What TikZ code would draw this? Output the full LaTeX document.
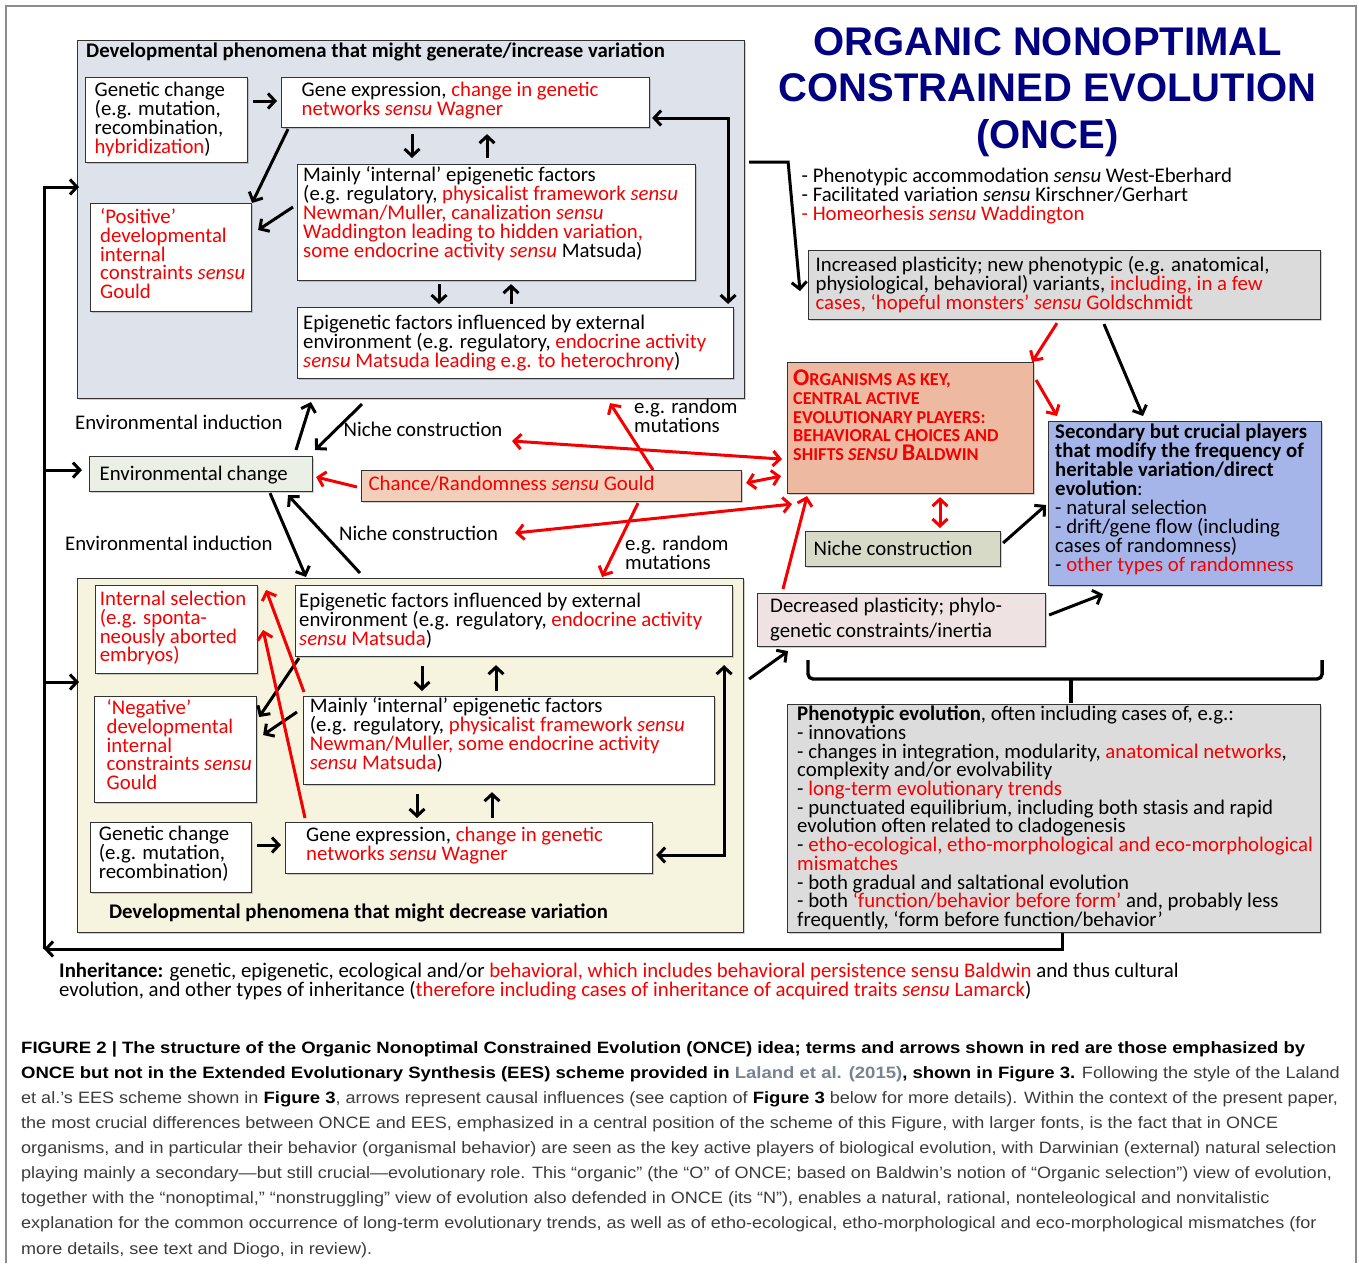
\documentclass[tikz,border=0pt]{standalone}
\usepackage{fontspec}
\setmainfont{Carlito}
\newfontfamily\arialf{Liberation Sans}
\newfontfamily\capf[FakeStretch=1.1,BoldFeatures={FakeStretch=1.13}]{Liberation Sans}
\usetikzlibrary{arrows.meta,calc,shadows}
\definecolor{rd}{RGB}{245,0,0}
\definecolor{navyt}{RGB}{0,0,128}
\definecolor{topfill}{RGB}{221,226,235}
\definecolor{botfill}{RGB}{246,243,222}
\definecolor{envfill}{RGB}{234,240,229}
\definecolor{chfill}{RGB}{242,207,186}
\definecolor{orgfill}{RGB}{237,185,160}
\definecolor{incfill}{RGB}{219,219,219}
\definecolor{secfill}{RGB}{165,181,233}
\definecolor{nicfill}{RGB}{216,218,200}
\definecolor{decfill}{RGB}{238,226,226}
\definecolor{phfill}{RGB}{220,220,220}
\definecolor{captxt}{RGB}{60,60,60}
\definecolor{capref}{RGB}{120,130,145}
\newcommand\R[1]{\textcolor{rd}{#1}}
\newcommand\st{\rule{0pt}{16pt}}
\newcommand\sn{\textit{sensu}}
\newcommand\BG[1]{{\fontsize{24}{18.9}\selectfont #1}}
\begin{document}
\begin{tikzpicture}[x=1pt,y=-1pt,
 >={Straight Barb[length=7pt,width=15pt]},
 bx/.style={draw=black!80, line width=1.1pt, anchor=north west, inner sep=0pt,
   drop shadow={shadow xshift=1.5pt,shadow yshift=-1.5pt,opacity=0.3,fill=black!60}},
 tx/.style={anchor=north west, inner sep=0pt, align=left, font=\fontsize{20.8}{18.9}\selectfont},
 ar/.style={line width=3pt, ->},
 ard/.style={line width=3pt, <->},
 rar/.style={line width=3pt, ->, draw=rd},
 rard/.style={line width=3pt, <->, draw=rd}]
\useasboundingbox (0,0) rectangle (1359,1263);
\fill[white] (0,0) rectangle (1359,1263);
\draw[black!45, line width=1.2pt] (6,1263) -- (6,6) -- (1356,6) -- (1356,1263);

% ---------- outer group boxes
\node[bx, fill=topfill, minimum width=667, minimum height=358] (top) at (77,40) {};
\node[bx, fill=botfill, minimum width=666, minimum height=354] (bot) at (77,578) {};

% ---------- top group
\node[tx, font=\fontsize{20.8}{18.9}\selectfont\bfseries] (toptitle) at (86,41) {\st Developmental phenomena that might generate/increase variation};
\node[bx, fill=white, minimum width=162, minimum height=85] (gc1) at (85,77) {};
\node[tx] (gc1t) at (94.5,80.7) {\st Genetic change\\(e.g. mutation,\\recombination,\\\R{hybridization})};
\node[bx, fill=white, minimum width=368, minimum height=50] (ge1) at (281,77) {};
\node[tx] (ge1t) at (301.5,80.7) {\st Gene expression, \R{change in genetic}\\\R{networks \sn{} Wagner}};
\node[bx, fill=white, minimum width=161, minimum height=108] (pos1) at (90,203) {};
\node[tx, text=rd] (pos1t) at (100,207) {\st ‘Positive’\\developmental\\internal\\constraints \sn\\Gould};
\node[bx, fill=white, minimum width=398, minimum height=116] (mi1) at (297,164) {};
\node[tx] (mi1t) at (303,165.7) {\st Mainly ‘internal’ epigenetic factors\\(e.g. regulatory, \R{physicalist framework \sn}\\\R{Newman/Muller, canalization \sn}\\\R{Waddington leading to hidden variation,}\\\R{some endocrine activity \sn} Matsuda)};
\node[bx, fill=white, minimum width=436, minimum height=71] (ee1) at (297,307) {};
\node[tx] (ee1t) at (303,313.3) {\st Epigenetic factors influenced by external\\environment (e.g. regulatory, \R{endocrine activity}\\\R{\sn{} Matsuda leading e.g. to heterochrony})};

\draw[ar] ($(gc1.north east)+(5,24)$) -- ($(ge1.north west)+(-4,24)$);
\draw[ar] ($(ge1.south west)+(7,1)$) -- (pos1.north east);
\draw[ar] ($(mi1.north west)+(-4,43)$) -- ($(pos1.north east)+(6,27)$);
\draw[ar] ($(ge1.south west)+(131,6)$) -- ($(mi1.north west)+(115,-6)$);
\draw[ar] ($(mi1.north west)+(190,-6)$) -- ($(ge1.south west)+(206,6)$);
\draw[ar] ($(mi1.south west)+(142,3)$) -- ($(ee1.north west)+(142,-3)$);
\draw[ar] ($(ee1.north west)+(214,-3)$) -- ($(mi1.south west)+(214,3)$);
\draw[ard] ($(ge1.north east)+(2,41)$) -| ($(ee1.north east)+(-6,-3)$);

% ---------- bottom group
\node[bx, fill=white, minimum width=162, minimum height=88] (is2) at (95,585) {};
\node[tx, text=rd] (is2t) at (99.6,589) {\st Internal selection\\(e.g. sponta-\\neously aborted\\embryos)};
\node[bx, fill=white, minimum width=437, minimum height=71] (ee2) at (295,585) {};
\node[tx] (ee2t) at (299,591.3) {\st Epigenetic factors influenced by external\\environment (e.g. regulatory, \R{endocrine activity}\\\R{\sn{} Matsuda})};
\node[bx, fill=white, minimum width=162, minimum height=106] (neg) at (94,696) {};
\node[tx, text=rd] (negt) at (106.5,698) {\st ‘Negative’\\developmental\\internal\\constraints \sn\\Gould};
\node[bx, fill=white, minimum width=411, minimum height=88] (mi2) at (303,696) {};
\node[tx] (mi2t) at (309.7,696.7) {\st Mainly ‘internal’ epigenetic factors\\(e.g. regulatory, \R{physicalist framework \sn}\\\R{Newman/Muller, some endocrine activity}\\\R{\sn{} Matsuda})};
\node[bx, fill=white, minimum width=161, minimum height=70] (gc2) at (90,822) {};
\node[tx] (gc2t) at (98.7,824.7) {\st Genetic change\\(e.g. mutation,\\recombination)};
\node[bx, fill=white, minimum width=367, minimum height=51] (ge2) at (285,822) {};
\node[tx] (ge2t) at (306,825.7) {\st Gene expression, \R{change in genetic}\\\R{networks \sn{} Wagner}};
\node[tx, font=\fontsize{20.8}{18.9}\selectfont\bfseries] (bottitle) at (108.8,902.3) {\st Developmental phenomena that might decrease variation};

\draw[ar] ($(ee2.south west)+(4,1)$) -- ($(neg.north east)+(2,21)$);
\draw[ar] ($(mi2.north west)+(-6,16)$) -- ($(neg.north east)+(6,39)$);
\draw[rar] ($(mi2.north west)+(1,-4)$) -- ($(is2.north east)+(8,5)$);
\draw[rar] ($(ge2.north west)+(20,-4)$) -- ($(is2.north east)+(5,45)$);
\draw[ar] ($(ee2.south west)+(127,9)$) -- ($(mi2.north west)+(119,-5)$);
\draw[ar] ($(mi2.north west)+(193,-5)$) -- ($(ee2.south west)+(201,8)$);
\draw[ar] ($(mi2.south west)+(114,9)$) -- ($(ge2.north west)+(132,-4)$);
\draw[ar] ($(ge2.north west)+(207,-4)$) -- ($(mi2.south west)+(189,7)$);
\draw[ard] ($(ge2.north east)+(3,33)$) -| ($(ee2.south east)+(-9,8)$);
\draw[ar] ($(gc2.north east)+(5,23)$) -- ($(ge2.north west)+(-4,23)$);

% ---------- middle
\node[bx, fill=envfill, minimum width=223, minimum height=35] (envc) at (89,456) {};
\node[tx] (envct) at (99.5,464) {\st Environmental change};
\node[bx, fill=chfill, minimum width=380, minimum height=31] (chc) at (361,470) {};
\node[tx, text=rd] (chct) at (368.4,474) {\st Chance/Randomness \sn{} Gould};
\node[tx] (ei1) at (75,413.3) {\st Environmental induction};
\node[tx] (nc1) at (343.4,420.7) {\st Niche construction};
\node[tx, font=\fontsize{20.8}{17.6}\selectfont] (rm1) at (634,397.3) {\st e.g. random\\mutations};
\node[tx] (nc2) at (339,524) {\st Niche construction};
\node[tx] (ei2) at (65,534) {\st Environmental induction};
\node[tx, font=\fontsize{20.8}{17.6}\selectfont] (rm2) at (625,534) {\st e.g. random\\mutations};
\coordinate (nc1p) at (512,441);
\coordinate (nc2p) at (515,533);

% ---------- right side
\node[anchor=north, inner sep=0pt, align=center, text=navyt,
  font=\arialf\bfseries\fontsize{40}{46.7}\selectfont] (title) at (1047.5,25)
  {\rule{0pt}{30pt}ORGANIC NONOPTIMAL\\CONSTRAINED EVOLUTION\\(ONCE)};
\node[tx, font=\fontsize{20.8}{19}\selectfont] (bul) at (801.5,166.7) {\st - Phenotypic accommodation \sn{} West-Eberhard\\- Facilitated variation \sn{} Kirschner/Gerhart\\\R{- Homeorhesis \sn{} Waddington}};
\node[bx, fill=incfill, minimum width=512, minimum height=69] (inc) at (808,250) {};
\node[tx] (inct) at (815.4,255.7) {\st Increased plasticity; new phenotypic (e.g. anatomical,\\physiological, behavioral) variants, \R{including, in a few}\\\R{cases, ‘hopeful monsters’ \sn{} Goldschmidt}};
\node[bx, fill=orgfill, minimum width=246, minimum height=131] (org) at (787,362) {};
\node[tx, text=rd, font=\fontsize{18.2}{18.9}\selectfont\bfseries] (orgt) at (793,369) {\st\BG{O}RGANISMS AS KEY,\\CENTRAL ACTIVE\\EVOLUTIONARY PLAYERS:\\BEHAVIORAL CHOICES AND\\SHIFTS \textit{SENSU} \BG{B}ALDWIN};
\node[bx, fill=secfill, minimum width=273, minimum height=164] (sec) at (1048,421) {};
\node[tx, font=\fontsize{20.8}{19}\selectfont] (sect) at (1055,422.3) {\st\textbf{Secondary but crucial players}\\\textbf{that modify the frequency of}\\\textbf{heritable variation/direct}\\\textbf{evolution}:\\- natural selection\\- drift/gene flow (including\\cases of randomness)\\- \R{other types of randomness}};
\node[bx, fill=nicfill, minimum width=195, minimum height=35] (nic2) at (805,531) {};
\node[tx] (nic2t) at (813.5,539) {\st Niche construction};
\node[bx, fill=decfill, minimum width=288, minimum height=53] (dec) at (757,593) {};
\node[tx, font=\fontsize{20.8}{25}\selectfont] (dect) at (770,596) {\st Decreased plasticity; phylo-\\genetic constraints/inertia};
\node[bx, fill=phfill, minimum width=533, minimum height=228] (phen) at (787,704) {};
\node[tx, font=\fontsize{20.8}{18.7}\selectfont] (phent) at (797,704.5) {\st\textbf{Phenotypic evolution}, often including cases of, e.g.:\\- innovations\\- changes in integration, modularity, \R{anatomical networks},\\complexity and/or evolvability\\- \R{long-term evolutionary trends}\\- punctuated equilibrium, including both stasis and rapid\\evolution often related to cladogenesis\\- \R{etho-ecological, etho-morphological and eco-morphological}\\\R{mismatches}\\- both gradual and saltational evolution\\- both \R{‘function/behavior before form’} and, probably less\\frequently, ‘form before function/behavior’};

% middle connectors
\draw[ar] ($(envc.north west)+(207,-6)$) -- ($(top.south west)+(234,3)$);
\draw[ar] ($(top.south west)+(285,5)$) -- ($(envc.north east)+(2,-6)$);
\draw[rar] ($(chc.north west)+(-4,17)$) -- ($(envc.north east)+(3,21)$);
\draw[rard] ($(chc.north east)+(4,13)$) -- ($(org.south west)+(-6,-18)$);
\draw[rard] (nc1p) -- ($(org.south west)+(-5,-35)$);
\draw[rard] (nc2p) -- ($(org.south west)+(5,10)$);
\draw[rar] ($(chc.north west)+(292,0)$) -- ($(top.south west)+(533,4)$);
\draw[rar] ($(chc.south west)+(277,1)$) -- ($(bot.north west)+(525,-1)$);
\draw[ar] ($(envc.south west)+(181,1)$) -- ($(bot.north west)+(229,-1)$);
\draw[ar] ($(bot.north west)+(283,-5)$) -- ($(envc.south west)+(199,3)$);

% right connectors
\draw[ar] ($(top.north east)+(4,122)$) -- ++(39,0) -- ($(inc.south west)+(-8,-29)$);
\draw[rar] ($(inc.south west)+(249,3)$) -- ($(org.north east)+(-2,0)$);
\draw[ar] ($(inc.south west)+(296,4)$) -- ($(sec.north west)+(95,-5)$);
\draw[rar] ($(org.north east)+(2,18)$) -- ($(sec.north west)+(9,-5)$);
\draw[rard] ($(org.south west)+(153,3)$) -- ($(nic2.north west)+(135,-3)$);
\draw[ar] ($(nic2.north east)+(2,12)$) -- ($(sec.north west)+(-2,84)$);
\draw[ar] ($(dec.north east)+(3,22)$) -- ($(sec.south west)+(55,8)$);
\draw[rar] ($(dec.north west)+(26,-4)$) -- ($(org.south west)+(20,2)$);
\draw[ar] ($(bot.north east)+(5,101)$) -- ($(dec.south west)+(31,4)$);

% brace
\draw[line width=3.4pt, rounded corners=5pt] ($(phen.north west)+(21,-44)$) |- ($(phen.north east)+(1,-25)$) -- ($(phen.north east)+(1,-44)$);
\draw[line width=3.4pt] ($(phen.north)+(17,-25)$) -- ($(phen.north)+(17,-1)$);

% inheritance loop
\coordinate (lc) at (44,949);
\coordinate (lt) at (44,187);
\draw[ar] ($(phen.south west)+(275,0)$) |- (lc);
\draw[ar] (lc) -- (lt) -- ($(top.north west)+(2,147)$);
\draw[ar] ($(lt |- envc.west)+(0,-4)$) -- ($(envc.west)+(-7,-4)$);
\draw[ar] ($(lt |- bot.north west)+(0,104)$) -- ($(bot.north west)+(2,104)$);

\node[tx, font=\fontsize{20.8}{19}\selectfont] (inh) at (59,961) {\st\textbf{Inheritance:} genetic, epigenetic, ecological and/or \R{behavioral, which includes behavioral persistence sensu Baldwin} and thus cultural\\evolution, and other types of inheritance (\R{therefore including cases of inheritance of acquired traits \sn{} Lamarck})};

% caption
\node[anchor=north west, inner sep=0pt, align=left, text=captxt,
  font=\capf\fontsize{16.4}{25.1}\selectfont] (cap) at (21,1040) {\rule{0pt}{13pt}\textbf{\color{black}FIGURE 2 | The structure of the Organic Nonoptimal Constrained Evolution (ONCE) idea; terms and arrows shown in red are those emphasized by}\\
\textbf{\color{black}ONCE but not in the Extended Evolutionary Synthesis (EES) scheme provided in \textcolor{capref}{Laland et al. (2015)}, shown in Figure 3.} Following the style of the Laland\\
et al.’s EES scheme shown in \textbf{\color{black}Figure 3}, arrows represent causal influences (see caption of \textbf{\color{black}Figure 3} below for more details). Within the context of the present paper,\\
the most crucial differences between ONCE and EES, emphasized in a central position of the scheme of this Figure, with larger fonts, is the fact that in ONCE\\
organisms, and in particular their behavior (organismal behavior) are seen as the key active players of biological evolution, with Darwinian (external) natural selection\\
playing mainly a secondary—but still crucial—evolutionary role. This “organic” (the “O” of ONCE; based on Baldwin’s notion of “Organic selection”) view of evolution,\\
together with the “nonoptimal,” “nonstruggling” view of evolution also defended in ONCE (its “N”), enables a natural, rational, nonteleological and nonvitalistic\\
explanation for the common occurrence of long-term evolutionary trends, as well as of etho-ecological, etho-morphological and eco-morphological mismatches (for\\
more details, see text and Diogo, in review).};
\end{tikzpicture}
\end{document}
